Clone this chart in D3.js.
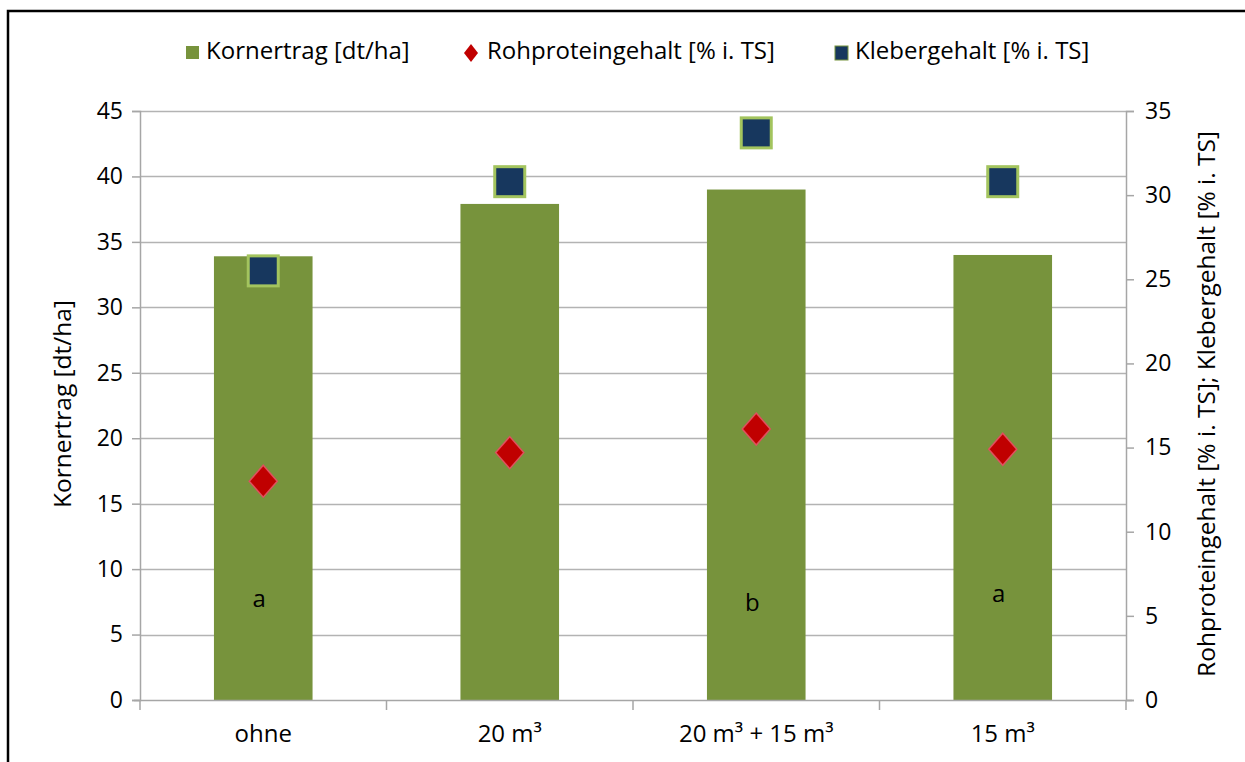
<!DOCTYPE html>
<html><head><meta charset="utf-8">
<script src="https://cdn.jsdelivr.net/npm/d3@7"></script>
<style>body{margin:0;background:#fff}svg{display:block}text{font-family:"Open Sans",Lato,sans-serif;fill:#000}</style>
</head><body><svg id="c" width="1245" height="762"></svg>
<script>
const categories = ["ohne", "20 m³", "20 m³ + 15 m³", "15 m³"];
const kornertrag = [33.9, 37.9, 39.0, 34.0];
const rohprotein = [13.0, 14.7, 16.1, 14.9];
const kleber = [25.5, 30.8, 33.7, 30.8];
const letters = ["a", "", "b", "a"];
const letterY = [7.6, null, 7.3, 8.0];
const leftTicks = [0,5,10,15,20,25,30,35,40,45];
const rightTicks = [0,5,10,15,20,25,30,35];

const FONT = "'Open Sans', Lato, sans-serif";
const svg = d3.select("#c");
const L = 140, R = 1126, T = 111, B = 700;
const x = d3.scaleBand().domain(categories).range([L, R]).paddingInner(0.6).paddingOuter(0.3);
const xb = d3.scaleBand().domain(categories).range([L, R]);
const yL = d3.scaleLinear().domain([0,45]).range([B, T]);
const yR = d3.scaleLinear().domain([0,35]).range([B, T]);

// frame
svg.append("path").attr("d","M8,800 L8,11 L1300,11").attr("fill","none").attr("stroke","#000").attr("stroke-width",2.5);

// gridlines
svg.append("g").selectAll("line").data(leftTicks.filter(d=>d>0)).join("line")
  .attr("x1",L).attr("x2",R).attr("y1",d=>Math.round(yL(d))+0.5).attr("y2",d=>Math.round(yL(d))+0.5)
  .attr("stroke","#b3b3b3").attr("stroke-width",1.5);

// bars
svg.append("g").selectAll("rect").data(kornertrag).join("rect")
  .attr("x",(d,i)=>x(categories[i])).attr("width",x.bandwidth())
  .attr("y",d=>yL(d)).attr("height",d=>B-yL(d)).attr("fill","#77933C");

// letters
svg.append("g").selectAll("text").data(letters).join("text")
  .attr("x",(d,i)=>x(categories[i])+x.bandwidth()/2-4).attr("y",(d,i)=>letterY[i]==null?0:yL(letterY[i]))
  .attr("text-anchor","middle").attr("dominant-baseline","middle").attr("font-size",24).text(d=>d);

// axes
const axL = d3.axisLeft(yL).tickValues(leftTicks).tickSize(8).tickPadding(9);
const gL = svg.append("g").attr("transform",`translate(${L},0)`).call(axL);
const axR = d3.axisRight(yR).tickValues(rightTicks).tickSize(8).tickPadding(11);
const gR = svg.append("g").attr("transform",`translate(${R},0)`).call(axR);
const axX = d3.axisBottom(xb).tickSize(0).tickPadding(25);
const gX = svg.append("g").attr("transform",`translate(0,${B})`).call(axX);
[gL,gR,gX].forEach(g=>{
  g.selectAll(".domain").attr("stroke","#a6a6a6").attr("stroke-width",1.5);
  g.selectAll(".tick line").attr("stroke","#a6a6a6").attr("stroke-width",1.5);
  g.selectAll("text").attr("font-size",23).attr("font-family",FONT).attr("fill","#000");
});
gX.selectAll("text").attr("font-size",24);
gX.select(".domain").attr("d",`M${L-6},0.5H${R+6}`);
// category separators
svg.append("g").selectAll("line").data(categories.concat(["end"])).join("line")
  .attr("x1",(d,i)=>L+i*xb.bandwidth()).attr("x2",(d,i)=>L+i*xb.bandwidth())
  .attr("y1",B).attr("y2",B+10).attr("stroke","#a6a6a6").attr("stroke-width",1.5);

// Kleber squares
const sq = 30;
svg.append("g").selectAll("rect").data(kleber).join("rect")
  .attr("x",(d,i)=>xb(categories[i])+xb.bandwidth()/2-sq/2).attr("y",d=>yR(d)-sq/2)
  .attr("width",sq).attr("height",sq).attr("fill","#17375E").attr("stroke","#A3C45E").attr("stroke-width",3);

// Rohprotein diamonds
svg.append("g").selectAll("path").data(rohprotein).join("path")
  .attr("transform",(d,i)=>`translate(${xb(categories[i])+xb.bandwidth()/2},${yR(d)})`)
  .attr("d","M0,-16L14,0L0,16L-14,0Z").attr("fill","#C00000").attr("stroke","#E0505E").attr("stroke-width",1.5);

// axis titles
svg.append("text").attr("transform","translate(64,404) rotate(-90)").attr("text-anchor","middle")
  .attr("dominant-baseline","middle").attr("font-size",24.5).text("Kornertrag [dt/ha]");
svg.append("text").attr("transform","translate(1208,404) rotate(-90)").attr("text-anchor","middle")
  .attr("dominant-baseline","middle").attr("font-size",24.5).text("Rohproteingehalt [% i. TS]; Klebergehalt [% i. TS]");

// legend
const leg = svg.append("g");
const ly = 53;
leg.append("rect").attr("x",186).attr("y",ly-7).attr("width",13).attr("height",13).attr("fill","#77933C");
leg.append("text").attr("x",206).attr("y",ly).attr("dominant-baseline","middle").attr("font-size",24).text("Kornertrag [dt/ha]");
leg.append("path").attr("transform",`translate(471,${ly})`).attr("d","M0,-9L7,0L0,9L-7,0Z").attr("fill","#C00000");
leg.append("text").attr("x",487).attr("y",ly).attr("dominant-baseline","middle").attr("font-size",24).text("Rohproteingehalt [% i. TS]");
leg.append("rect").attr("x",835).attr("y",ly-7).attr("width",13).attr("height",14).attr("fill","#17375E").attr("stroke","#77933C").attr("stroke-width",1);
leg.append("text").attr("x",855).attr("y",ly).attr("dominant-baseline","middle").attr("font-size",24).text("Klebergehalt [% i. TS]");
</script></body></html>
